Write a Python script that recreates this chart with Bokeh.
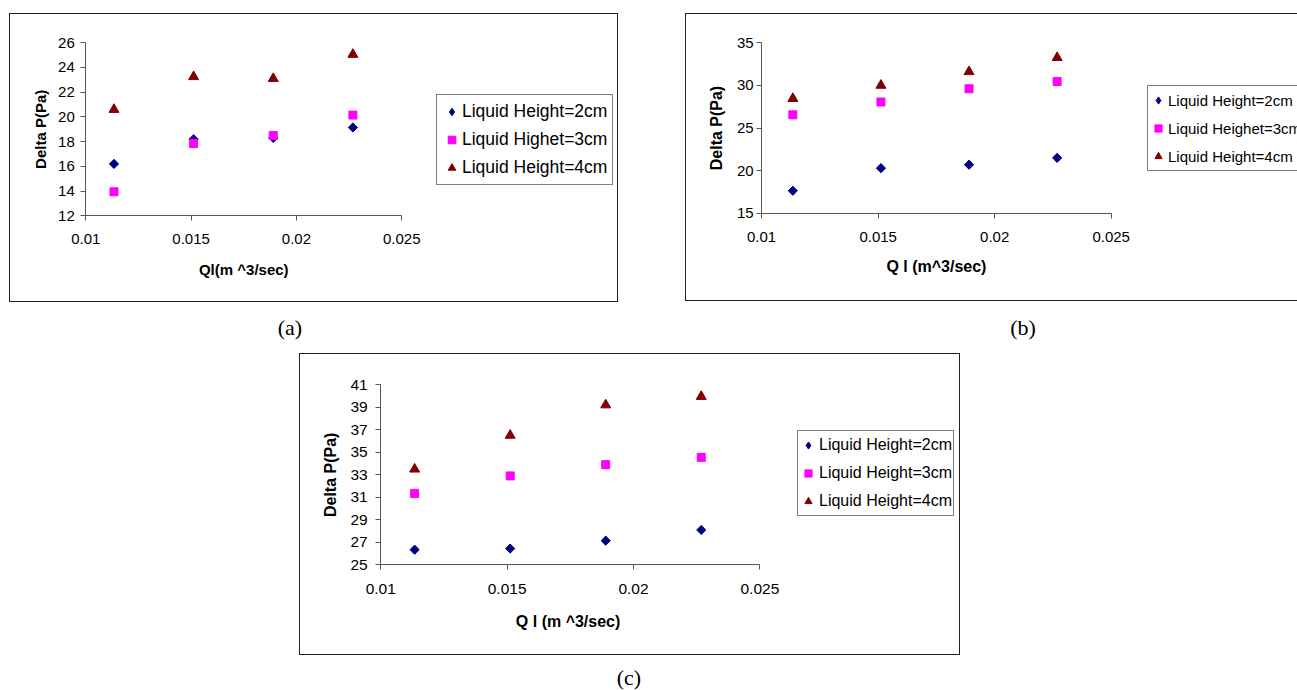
import math
from bokeh.plotting import figure
from bokeh.models import Legend, LegendItem, FixedTicker, Spacer, Div, Range1d, Label
from bokeh.layouts import column, row
from bokeh.core.properties import value
from bokeh.embed import file_html
from bokeh.resources import INLINE

# ---------------- data ----------------
ql = [0.01134, 0.01512, 0.0189, 0.02268]
x_ticks = [0.01, 0.015, 0.02, 0.025]
x_tick_labels = ["0.01", "0.015", "0.02", "0.025"]

# chart (a)
a_h2 = [16.2, 18.2, 18.3, 19.15]
a_h3 = [13.95, 17.85, 18.5, 20.15]
a_h4 = [20.6, 23.25, 23.1, 25.05]
a_yticks = [12, 14, 16, 18, 20, 22, 24, 26]
a_labels = ["Liquid Height=2cm", "Liquid Highet=3cm", "Liquid Height=4cm"]
a_xtitle = "Ql(m ^3/sec)"

# chart (b)
b_h2 = [17.65, 20.3, 20.7, 21.5]
b_h3 = [26.55, 28.05, 29.6, 30.45]
b_h4 = [28.45, 30.0, 31.6, 33.25]
b_yticks = [15, 20, 25, 30, 35]
b_labels = ["Liquid Height=2cm", "Liquid Heighet=3cm", "Liquid Height=4cm"]
b_xtitle = "Q l (m^3/sec)"

# chart (c)
c_h2 = [26.35, 26.45, 27.15, 28.1]
c_h3 = [31.35, 32.9, 33.9, 34.55]
c_h4 = [33.5, 36.5, 39.2, 39.95]
c_yticks = [25, 27, 29, 31, 33, 35, 37, 39, 41]
c_labels = ["Liquid Height=2cm", "Liquid Height=3cm", "Liquid Height=4cm"]
c_xtitle = "Q l  (m ^3/sec)"

y_title = "Delta P(Pa)"

FONT = "Liberation Sans"
NAVY = "#000080"
MAGENTA = "#FF00FF"
DARKRED = "#800000"
AXIS_COLOR = "#555555"


def make_chart(w, h, fw, fh, ax_left, ax_len, ax_top, ax_h, yticks, s2, s3, s4, labels,
               xtitle, leg_loc, leg_font, leg_pad, leg_gw, leg_gh, leg_sp, leg_so,
               tick_fs, title_fs, x_so, y_so, xt_off, yt_off, styles):
    """Chart area = whole bordered box; the axes are pinned inside it
    (fixed_location + bounds) so that the legend can sit to the right."""
    x0, x1 = x_ticks[0], x_ticks[-1]
    y0, y1 = yticks[0], yticks[-1]
    kx = (x1 - x0) / ax_len
    ky = (y1 - y0) / ax_h
    xr = Range1d(x0 - ax_left * kx, x0 + (fw - ax_left) * kx)
    yr = Range1d(y0 - (fh - ax_top - ax_h) * ky, y1 + ax_top * ky)

    p = figure(width=w, height=h, x_range=xr, y_range=yr,
               output_backend="svg", toolbar_location=None,
               min_border=0, min_border_left=0, min_border_right=0,
               min_border_top=0, min_border_bottom=0,
               background_fill_color="white", border_fill_color="white")
    p.styles = styles
    p.xgrid.visible = False
    p.ygrid.visible = False
    p.outline_line_color = None

    # legend glyph for the diamond series (hidden under the Excel-like diamond)
    r2 = p.scatter(ql, s2, marker="diamond", size=8, color=NAVY)
    p.scatter(ql, s2, marker="square", angle=math.pi / 4, size=6.5, color=NAVY)
    r3 = p.scatter(ql, s3, marker="square", size=8, color=MAGENTA)
    r4 = p.scatter(ql, s4, marker="triangle", size=10, color=DARKRED)

    for ax in (p.xaxis[0], p.yaxis[0]):
        ax.axis_line_color = AXIS_COLOR
        ax.major_tick_line_color = AXIS_COLOR
        ax.minor_tick_line_color = None
        ax.major_tick_in = 0
        ax.major_tick_out = 5
        ax.major_label_text_font = FONT
        ax.major_label_text_font_size = tick_fs
        ax.major_label_text_color = "black"

    p.xaxis.fixed_location = y0
    p.xaxis.bounds = (x0, x1)
    p.xaxis.ticker = FixedTicker(ticks=x_ticks)
    p.xaxis.major_label_overrides = {t: l for t, l in zip(x_ticks, x_tick_labels)}
    p.xaxis.major_label_standoff = x_so

    p.yaxis.fixed_location = x0
    p.yaxis.bounds = (y0, y1)
    p.yaxis.ticker = FixedTicker(ticks=yticks)
    p.yaxis.major_label_standoff = y_so

    p.add_layout(Label(x=(x0 + x1) / 2, y=y0, y_offset=-xt_off, text=xtitle,
                       text_align="center", text_baseline="middle",
                       text_font=FONT, text_font_style="bold",
                       text_font_size=title_fs, text_color="black"))
    p.add_layout(Label(x=x0, y=(y0 + y1) / 2, x_offset=-yt_off, text=y_title,
                       angle=math.pi / 2, text_align="center", text_baseline="middle",
                       text_font=FONT, text_font_style="bold",
                       text_font_size=title_fs, text_color="black"))

    legend = Legend(
        items=[LegendItem(label=value(labels[0]), renderers=[r2]),
               LegendItem(label=value(labels[1]), renderers=[r3]),
               LegendItem(label=value(labels[2]), renderers=[r4])],
        location=leg_loc, margin=0, padding=leg_pad,
        glyph_width=leg_gw, glyph_height=leg_gh, label_height=leg_gh,
        spacing=leg_sp, label_standoff=leg_so,
        label_text_font=FONT, label_text_font_size=leg_font,
        label_text_color="black",
        border_line_color="black", border_line_width=1,
        background_fill_color="white", background_fill_alpha=1.0)
    p.add_layout(legend)
    return p


BORDER = {"border": "1px solid #222222"}

pa = make_chart(609, 289, 607, 287, 75, 315, 28, 172,
                a_yticks, a_h2, a_h3, a_h4, a_labels, a_xtitle,
                (426, 118), "17.5px", 5, 19, 23, 5, 1,
                "15px", "15px", 13, 6, 54, 45.5, BORDER)

pb = make_chart(612, 288, 611, 286, 75, 349, 28, 169.5,
                b_yticks, b_h2, b_h3, b_h4, b_labels, b_xtitle,
                (461, 131), "15px", 1, 18, 26, 2, 1,
                "15px", "16px", 14, 3, 53.5, 45.5,
                {"border": "1px solid #222222", "border-right": "none"})

pc = make_chart(661, 302, 659, 300, 80, 378, 30, 179,
                c_yticks, c_h2, c_h3, c_h4, c_labels, c_xtitle,
                (497, 140), "16px", 1, 18, 26, 2, 2,
                "15.5px", "16px", 14, 8, 56.5, 50, BORDER)

LBL = {"font-family": "Liberation Serif", "font-size": "22px", "text-align": "center",
       "line-height": "52px", "color": "black"}
LBL_C = dict(LBL, **{"line-height": "46px"})

div_a = Div(text="(a)", width=580, height=51, margin=0, styles=LBL)
div_b = Div(text="(b)", width=100, height=51, margin=0, styles=LBL)
div_c = Div(text="(c)", width=100, height=35, margin=0, styles=LBL_C)

layout = column(
    Spacer(height=13, width=1297),
    row(Spacer(width=9, height=289), pa, Spacer(width=67, height=289), pb),
    row(div_a, Spacer(width=393, height=51), div_b),
    row(Spacer(width=299, height=302), pc),
    row(Spacer(width=579, height=35), div_c),
)

open("out.html", "w").write(file_html(layout, INLINE))
